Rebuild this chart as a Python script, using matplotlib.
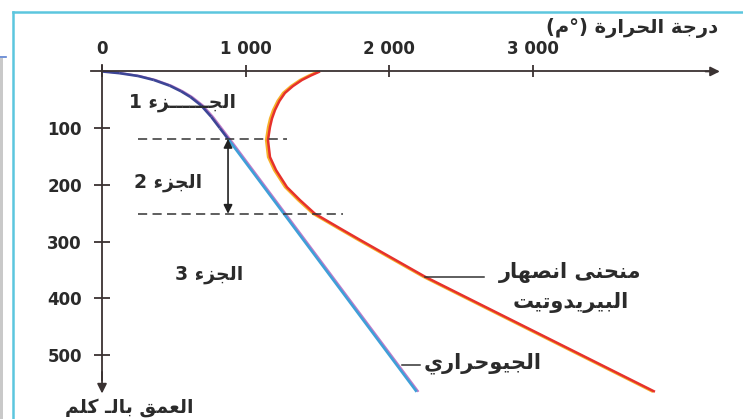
import matplotlib
matplotlib.use("Agg")
import matplotlib.pyplot as plt
import matplotlib.transforms as mtransforms
from matplotlib.collections import LineCollection
from matplotlib.patches import Rectangle
from matplotlib.lines import Line2D
import numpy as np

plt.rcParams['font.family'] = ['DejaVu Sans']

# geotherm: depth (km) -> temperature (deg C)
geo_depth = [0, 3, 8, 15, 25, 35, 45, 60, 80, 100, 119, 565]
geo_temp = [0, 120, 250, 360, 470, 550, 615, 690, 760, 820, 877, 2190]

# peridotite solidus
sol_depth = [0, 7, 15, 26, 38, 52, 68, 83, 98, 121, 151, 174, 204, 227, 251,
             278, 297, 362, 565]
sol_temp = [1517, 1455, 1392, 1328, 1273, 1235, 1204, 1183, 1169, 1155, 1169,
            1211, 1287, 1378, 1482, 1665, 1795, 2248, 3848]

x_ticks = [0, 1000, 2000, 3000]
x_ticklabels = ['0', '1 000', '2 000', '3 000']
y_ticks = [100, 200, 300, 400, 500]
y_ticklabels = ['100', '200', '300', '400', '500']

# limits of the three parts (depth, km)
part_bounds = [119, 251]

txt_temp = 'درجة الحرارة (°م)'
txt_depth = 'العمق بالـ كلم'
txt_parts = ['الجــــــزء 1', 'الجزء 2', 'الجزء 3']
txt_solidus = ['منحنى انصهار', 'البيريدوتيت']
txt_geo = 'الجيوحراري'

# arabic presentation forms: isolated, final, initial, medial
FORMS = {
    'ء': ('\uFE80', None, None, None),
    'ا': ('\uFE8D', '\uFE8E', None, None),
    'ب': ('\uFE8F', '\uFE90', '\uFE91', '\uFE92'),
    'ة': ('\uFE93', '\uFE94', None, None),
    'ت': ('\uFE95', '\uFE96', '\uFE97', '\uFE98'),
    'ج': ('\uFE9D', '\uFE9E', '\uFE9F', '\uFEA0'),
    'ح': ('\uFEA1', '\uFEA2', '\uFEA3', '\uFEA4'),
    'د': ('\uFEA9', '\uFEAA', None, None),
    'ر': ('\uFEAD', '\uFEAE', None, None),
    'ز': ('\uFEAF', '\uFEB0', None, None),
    'ص': ('\uFEB9', '\uFEBA', '\uFEBB', '\uFEBC'),
    'ع': ('\uFEC9', '\uFECA', '\uFECB', '\uFECC'),
    'ق': ('\uFED5', '\uFED6', '\uFED7', '\uFED8'),
    'ك': ('\uFED9', '\uFEDA', '\uFEDB', '\uFEDC'),
    'ل': ('\uFEDD', '\uFEDE', '\uFEDF', '\uFEE0'),
    'م': ('\uFEE1', '\uFEE2', '\uFEE3', '\uFEE4'),
    'ن': ('\uFEE5', '\uFEE6', '\uFEE7', '\uFEE8'),
    'ه': ('\uFEE9', '\uFEEA', '\uFEEB', '\uFEEC'),
    'و': ('\uFEED', '\uFEEE', None, None),
    'ى': ('\uFEEF', '\uFEF0', None, None),
    'ي': ('\uFEF1', '\uFEF2', '\uFEF3', '\uFEF4'),
    'ـ': ('ـ', 'ـ', 'ـ', 'ـ'),
}


def ar(s):
    def dual(c):
        return c in FORMS and FORMS[c][2] is not None

    def joins(c):
        return c in FORMS and FORMS[c][1] is not None

    out = []
    for i, c in enumerate(s):
        if c not in FORMS:
            out.append(c)
            continue
        prev = s[i - 1] if i > 0 else ''
        nxt = s[i + 1] if i + 1 < len(s) else ''
        jp = dual(prev) and joins(c)
        jn = dual(c) and joins(nxt)
        iso, fin, ini, med = FORMS[c]
        if jp and jn:
            out.append(med)
        elif jp:
            out.append(fin)
        elif jn:
            out.append(ini)
        else:
            out.append(iso)
    mirror = {'(': ')', ')': '('}
    return ''.join(mirror.get(c, c) for c in reversed(out))


fig = plt.figure(figsize=(7.43, 4.19), dpi=100, facecolor='white')
ax = fig.add_axes([0, 0, 1, 1])
ax.patch.set_alpha(0)
ax.set_xlim(-710, 4461)
ax.set_ylim(613, -126)

# border of the figure panel
fig.add_artist(Line2D([13 / 743, 13 / 743], [0, 1 - 12 / 419], color='#5cc6de', lw=1.8))
fig.add_artist(Line2D([13 / 743, 1], [1 - 12 / 419, 1 - 12 / 419], color='#5cc6de', lw=1.8))
fig.add_artist(Rectangle((0, 0), 3 / 743, 1 - 58 / 419, color='#c9c9c9', lw=0))
fig.add_artist(Line2D([0, 6 / 743], [1 - 57 / 419, 1 - 57 / 419], color='#5a7fd0', lw=1.2))

axis_col = '#3a3232'
for side in ['bottom', 'right']:
    ax.spines[side].set_visible(False)
ax.spines['top'].set_position(('data', 0))
ax.spines['left'].set_position(('data', 0))
ax.spines['top'].set_bounds(-75, 4230)
ax.spines['left'].set_bounds(-12, 545)
for side in ['top', 'left']:
    ax.spines[side].set_color(axis_col)
    ax.spines[side].set_linewidth(1.3)
ax.annotate('', xy=(4300, 0), xytext=(4200, 0),
            arrowprops=dict(arrowstyle='-|>', color=axis_col, lw=1.3,
                            mutation_scale=14, shrinkA=0, shrinkB=0))
ax.annotate('', xy=(0, 568), xytext=(0, 530),
            arrowprops=dict(arrowstyle='-|>', color=axis_col, lw=1.3,
                            mutation_scale=14, shrinkA=0, shrinkB=0))

ax.xaxis.tick_top()
ax.set_xticks(x_ticks, x_ticklabels)
ax.set_yticks(y_ticks, y_ticklabels)
ax.tick_params(axis='x', direction='inout', length=9, width=1.3, pad=5,
               color=axis_col, labelsize=12, labelcolor='#2a2a2a')
ax.tick_params(axis='y', direction='inout', length=11, width=1.3, pad=9,
               color=axis_col, labelsize=12, labelcolor='#2a2a2a')
for lab in ax.get_xticklabels() + ax.get_yticklabels():
    lab.set_fontweight('bold')

# solidus: orange edge on the left, red on the right
shift_l = mtransforms.offset_copy(ax.transData, fig=fig, x=-1.8, y=0, units='dots')
ax.plot(sol_temp, sol_depth, color='#f6b02a', lw=1.9, transform=shift_l,
        solid_capstyle='butt', solid_joinstyle='round')
ax.plot(sol_temp, sol_depth, color='#e6312c', lw=1.8, solid_capstyle='butt',
        solid_joinstyle='round')

# geotherm: violet edge on the right, blue line shading from navy to cyan
shift_r = mtransforms.offset_copy(ax.transData, fig=fig, x=1.8, y=0, units='dots')
ax.plot(geo_temp, geo_depth, color='#c07ac8', lw=1.5, transform=shift_r,
        solid_capstyle='butt', solid_joinstyle='round')
pts = np.column_stack([geo_temp, geo_depth])
segs = np.stack([pts[:-1], pts[1:]], axis=1)
seg_cols = ['#3d4696'] * (len(segs) - 1) + ['#3f9fd8']
ax.add_collection(LineCollection(segs, colors=seg_cols, lw=1.9, joinstyle='round'))

# dashed limits of part 2 and the arrow between them
ax.plot([250, 1287], [part_bounds[0]] * 2, ls=(0, (6, 3.5)), color='#333333', lw=1.1)
ax.plot([250, 1680], [part_bounds[1]] * 2, ls=(0, (6, 3.5)), color='#333333', lw=1.1)
ax.annotate('', xy=(877, part_bounds[0]), xytext=(877, part_bounds[1]),
            arrowprops=dict(arrowstyle='<|-|>', color='#222222', lw=1.2,
                            mutation_scale=13, shrinkA=0, shrinkB=0))

text_kw = dict(color='#2b2b2b', fontweight='bold', fontsize=13.5)
ax.text(4290, -77, ar(txt_temp), ha='right', va='center', **dict(text_kw, fontsize=14))
ax.text(930, 54, ar(txt_parts[0]), ha='right', va='center', **text_kw)
ax.text(696, 195, ar(txt_parts[1]), ha='right', va='center', **text_kw)
ax.text(981, 359, ar(txt_parts[2]), ha='right', va='center', **text_kw)
ax.text(3260, 354, ar(txt_solidus[0]), ha='center', va='center', **dict(text_kw, fontsize=15))
ax.text(3260, 407, ar(txt_solidus[1]), ha='center', va='center', **dict(text_kw, fontsize=15))
ax.text(2240, 514, ar(txt_geo), ha='left', va='center', **dict(text_kw, fontsize=15))
ax.text(190, 593, ar(txt_depth), ha='center', va='center', **text_kw)

# leader lines to the curve labels
ax.plot([2248, 2655], [362, 362], color='#333333', lw=1.1)
ax.plot([2089, 2215], [518, 518], color='#333333', lw=1.1)

fig.savefig('out.png', dpi=100, facecolor='white')
